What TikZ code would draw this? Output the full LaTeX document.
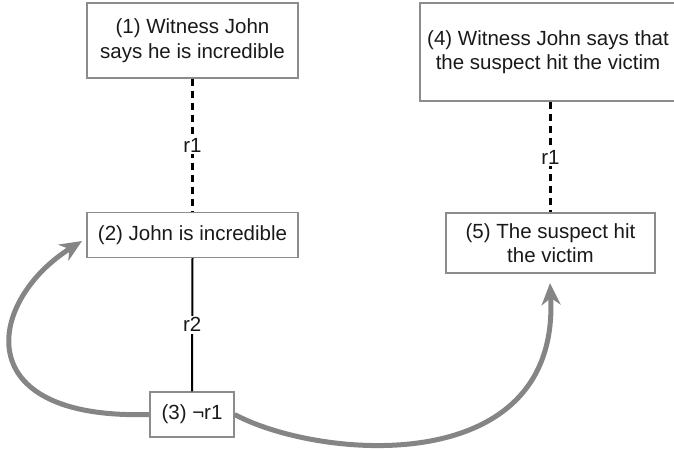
\documentclass[tikz,border=0pt]{standalone}
\usepackage{fontspec}
\setmainfont{Liberation Sans}
\usetikzlibrary{arrows.meta}
\begin{document}
\begin{tikzpicture}[x=1pt,y=-1pt,
  txt/.style={font=\fontsize{20.5}{24.5}\selectfont, text=black!90},
  box/.style={txt, draw=black!45, line width=1.2pt, align=center, inner sep=0pt},
  lbl/.style={txt, fill=white, inner sep=2pt},
  dashlink/.style={line width=2.4pt, dash pattern=on 7pt off 5pt},
  solidlink/.style={line width=2pt},
  bigarrow/.style={draw=black!48, line width=5pt, -{Stealth[length=22pt,width=19pt,inset=7pt]}}]
\useasboundingbox (0,0) rectangle (674,450);
\node[box, minimum width=211pt, minimum height=75pt] (n1) at (192.5,40.5) {(1) Witness John\\says he is incredible};
\node[box, minimum width=211pt, minimum height=45pt] (n2) at (192.5,235) {(2) John is incredible};
\node[box, minimum width=84pt, minimum height=45pt] (n3) at (192,414.5) {(3) ¬r1};
\node[box, minimum width=256pt, minimum height=98pt] (n4) at (548,52) {(4) Witness John says that\\the suspect hit the victim};
\node[box, minimum width=209pt, minimum height=60pt] (n5) at (550.5,243) {(5) The suspect hit\\the victim};
\draw[dashlink] (n1.south) -- node[lbl] (l1) {r1} (n2.north);
\draw[dashlink] (n4.south -| n5.north) -- node[lbl] (l2) {r1} (n5.north);
\draw[solidlink] (n2.south) -- node[lbl] (l3) {r2} (n3.north);
\coordinate (t2) at (82,241);
\coordinate (t5) at (550,283);
\draw[bigarrow] (n3.west) .. controls (-35,420) and (-12,300) .. (t2);
\draw[bigarrow] (n3.east) .. controls (320,460) and (560,480) .. (t5);
\end{tikzpicture}
\end{document}
